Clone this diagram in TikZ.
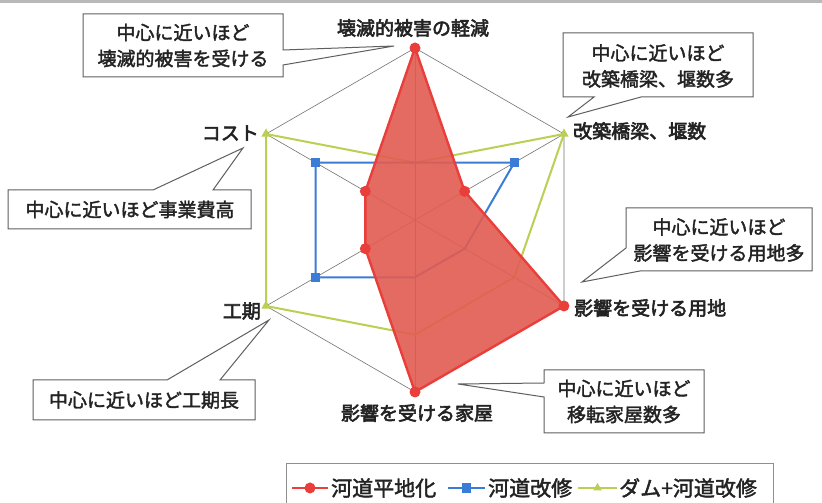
\documentclass[tikz,border=0pt]{standalone}
\usepackage{fontspec}
\setmainfont{Noto Sans CJK JP}
\newfontfamily\labfont[FakeBold=3]{Noto Sans CJK JP}
\newfontfamily\calfont[FakeBold=2]{Noto Sans CJK JP}
\usetikzlibrary{calc,shapes.geometric}
\definecolor{redS}{RGB}{234,62,58}
\definecolor{redF}{RGB}{226,92,82}
\definecolor{blueS}{RGB}{58,124,214}
\definecolor{greenS}{RGB}{186,208,82}
\definecolor{gridC}{RGB}{115,115,115}
\definecolor{boxC}{RGB}{95,95,95}
\definecolor{txtC}{RGB}{35,35,35}
\begin{document}
\begin{tikzpicture}[x=1pt,y=1pt,
  gridline/.style={draw=gridC,line width=0.6pt},
  redline/.style={draw=redS,line width=2.4pt,line join=round},
  blueline/.style={draw=blueS,line width=2pt,line join=round},
  greenline/.style={draw=greenS,line width=2pt,line join=round},
  redmark/.style={circle,fill=redS,inner sep=0pt,minimum size=11pt},
  bluemark/.style={rectangle,fill=blueS,inner sep=0pt,minimum size=9.5pt},
  greenmark/.style={regular polygon,regular polygon sides=3,fill=greenS,inner sep=0pt,minimum size=11pt},
  axislabel/.style={font=\labfont\fontsize{19}{22}\selectfont,text=txtC,inner sep=0pt},
  callout/.style={draw=boxC,line width=1pt,fill=white,line join=miter},
  callouttext/.style={font=\calfont\fontsize{19}{26}\selectfont,text=txtC,align=center,inner sep=0pt},
  legendtext/.style={font=\calfont\fontsize{21}{24}\selectfont,text=txtC,inner sep=0pt,anchor=west}
]
\useasboundingbox (0,0) rectangle (822,503);
\fill[white] (0,0) rectangle (822,503);
\fill[gray!55] (0,500) rectangle (822,503);

% axes
\coordinate (O) at (415,283);
\foreach \a/\n in {90/A,30/B,-30/C,-90/D,210/E,150/F}
  \coordinate (\n) at ($(O)+(\a:172)$);
\draw[gridline] (A)--(B)--(C)--(D)--(E)--(F)--cycle;
\foreach \n in {A,B,C,D,E,F} \draw[gridline] (O)--(\n);

% data points
\coordinate (r1) at (A);
\coordinate (r2) at ($(O)!0.3333!(B)$);
\coordinate (r3) at (C);
\coordinate (r4) at (D);
\coordinate (r5) at ($(O)!0.3333!(E)$);
\coordinate (r6) at ($(O)!0.3333!(F)$);
\coordinate (b1) at ($(O)!0.3333!(A)$);
\coordinate (b2) at ($(O)!0.6667!(B)$);
\coordinate (b3) at ($(O)!0.3333!(C)$);
\coordinate (b4) at ($(O)!0.3333!(D)$);
\coordinate (b5) at ($(O)!0.6667!(E)$);
\coordinate (b6) at ($(O)!0.6667!(F)$);
\coordinate (g1) at ($(O)!0.3333!(A)$);
\coordinate (g2) at (B);
\coordinate (g3) at ($(O)!0.6667!(C)$);
\coordinate (g4) at ($(O)!0.6667!(D)$);
\coordinate (g5) at (E);
\coordinate (g6) at (F);

\draw[greenline] (g1)--(g2)--(g3)--(g4)--(g5)--(g6)--cycle;
\draw[blueline] (b1)--(b2)--(b3)--(b4)--(b5)--(b6)--cycle;
\fill[redF,fill opacity=0.9] (r1)--(r2)--(r3)--(r4)--(r5)--(r6)--cycle;
\draw[redline] (r1)--(r2)--(r3)--(r4)--(r5)--(r6)--cycle;

\foreach \i in {2,5,6} \node[greenmark] (gm\i) at (g\i) {};
\foreach \i in {2,5,6} \node[bluemark] (bm\i) at (b\i) {};
\foreach \i in {1,2,3,4,5,6} \node[redmark] (rm\i) at (r\i) {};

% axis labels
\node[axislabel] (lA) at (413,475) {壊滅的被害の軽減};
\node[axislabel,anchor=west] (lB) at (573,372) {改築橋梁、堰数};
\node[axislabel,anchor=west] (lC) at (574,195) {影響を受ける用地};
\node[axislabel] (lD) at (417,90) {影響を受ける家屋};
\node[axislabel,anchor=east] (lE) at (261,192) {工期};
\node[axislabel,anchor=east] (lF) at (259,370) {コスト};

% callout 1 (top left)
\coordinate (t1) at (394,457);
\draw[callout] (83,489)--(283,489)--(283,453)--(t1)--(283,438)--(283,426)--(83,426)--cycle;
\node[callouttext] (c1) at (183,457.5) {中心に近いほど\\壊滅的被害を受ける};

% callout 2 (top right)
\coordinate (t2) at (568,386);
\draw[callout] (563,470)--(753,470)--(753,406)--(641,406)--(t2)--(594,406)--(563,406)--cycle;
\node[callouttext] (c2) at (658,437) {中心に近いほど\\改築橋梁、堰数多};

% callout 3 (right middle)
\coordinate (t3) at (582,221);
\draw[callout] (626,295)--(812,295)--(812,232)--(640,232)--(t3)--(626,255)--cycle;
\node[callouttext] (c3) at (719,263) {中心に近いほど\\影響を受ける用地多};

% callout 4 (left)
\coordinate (t4) at (243,355);
\draw[callout] (8,313)--(153,313)--(t4)--(213,313)--(251,313)--(251,274)--(8,274)--cycle;
\node[callouttext] (c4) at (130,293.5) {中心に近いほど事業費高};

% callout 5 (lower left)
\coordinate (t5) at (269,183);
\draw[callout] (33,123)--(167,123)--(t5)--(220,123)--(255,123)--(255,83)--(33,83)--cycle;
\node[callouttext] (c5) at (144,103) {中心に近いほど工期長};

% callout 6 (lower right)
\coordinate (t6) at (458,119);
\draw[callout] (544,133)--(704,133)--(704,70)--(544,70)--(544,106)--(t6)--(544,120)--cycle;
\node[callouttext] (c6) at (624,101.5) {中心に近いほど\\移転家屋数多};

% legend
\draw[draw=boxC!70,line width=0.8pt,fill=white] (286,-5) rectangle (773,40);
\coordinate (la1) at (292,15); \coordinate (la2) at (328,15);
\coordinate (lb1) at (448,15); \coordinate (lb2) at (485,15);
\coordinate (lc1) at (578,15); \coordinate (lc2) at (617,15);
\draw[draw=redS,line width=1.8pt] (la1)--(la2);
\node[redmark] (lmr) at ($(la1)!0.5!(la2)$) {};
\node[legendtext] (ltr) at (331,15) {河道平地化};
\draw[draw=blueS,line width=1.8pt] (lb1)--(lb2);
\node[bluemark] (lmb) at ($(lb1)!0.5!(lb2)$) {};
\node[legendtext] (ltb) at (488,15) {河道改修};
\draw[draw=greenS,line width=1.8pt] (lc1)--(lc2);
\node[greenmark,minimum size=10pt] (lmg) at ($(lc1)!0.5!(lc2)$) {};
\node[legendtext] (ltg) at (619,15) {ダム+河道改修};
\end{tikzpicture}
\end{document}
